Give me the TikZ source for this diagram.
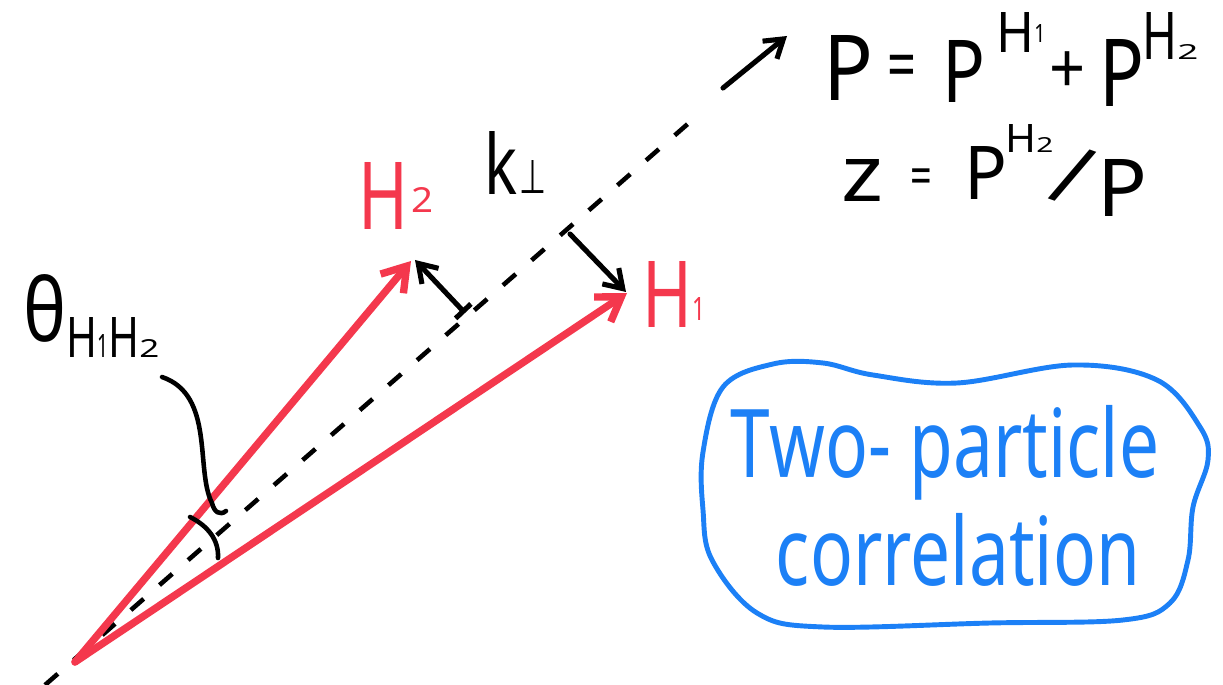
\documentclass[tikz,border=0pt]{standalone}
\usepackage{fontspec}
\setmainfont{Noto Sans}
\newfontfamily\symfont{DejaVu Sans}
\usetikzlibrary{arrows.meta}
\definecolor{hred}{HTML}{F4384D}
\definecolor{hblue}{HTML}{1C80F6}
\newcommand{\fs}[1]{\fontsize{#1}{#1}\selectfont}
\newcommand{\nar}[2][0.72]{\scalebox{#1}[1]{#2}}
\newcommand{\rb}[3]{\resizebox{#1mm}{#2mm}{#3}}
\begin{document}
\begin{tikzpicture}[x=0.02cm,y=-0.02cm,
  redvec/.style={draw=hred, line width=4.2pt, line cap=round, -{Straight Barb[length=13pt,width=17pt]}},
  blackvec/.style={draw=black, line width=2.9pt, line cap=round, -{Straight Barb[length=10pt,width=13pt]}},
  axisline/.style={draw=black, line width=2.6pt, dash pattern=on 0.34cm off 0.42cm},
  thinline/.style={draw=black, line width=2.6pt, line cap=round},
  redlab/.style={text=hred, inner sep=0pt},
  blk/.style={text=black, inner sep=0pt},
  bluetxt/.style={text=hblue, inner sep=0pt}
]
\useasboundingbox (0,0) rectangle (1223,685);
% points
\coordinate (O) at (75,662);
\coordinate (Ostart) at (45,685);
\coordinate (T2) at (411,261);
\coordinate (T1) at (627,293);
\coordinate (Dend) at (690,122);
\coordinate (Pa) at (723,88);
\coordinate (Pb) at (787,36);
\coordinate (K1a) at (465,313);
\coordinate (K1b) at (415,260);
\coordinate (K2a) at (570,234);
\coordinate (K2b) at (626,292);
\coordinate (La) at (162,377);
\coordinate (Lb) at (212,503);
\coordinate (Aa) at (190,517);
\coordinate (Ab) at (218,558);
% axis
\draw[axisline] (Ostart) -- (Dend);
\draw[blackvec] (Pa) -- (Pb);
% red vectors
\draw[redvec] (O) -- (T2);
\draw[redvec] (O) -- (T1);
% k perp arrows
\draw[blackvec, {Bar[width=12pt]}-{Straight Barb[length=10pt,width=13pt]}] (K1a) -- (K1b);
\draw[blackvec] (K2a) -- (K2b);
% angle leader and arc
\draw[thinline] (La) .. controls (215,395) and (195,470) .. (Lb)
   .. controls (214,512) and (220,516) .. (226,511);
\draw[thinline] (Aa) .. controls (208,526) and (219,540) .. (Ab);
% labels
\node[redlab, anchor=base west] (H2) at (358,230) {\rb{10}{13.4}{H}\kern0.6mm\raisebox{3.4mm}{\rb{4.4}{5}{2}}};
\node[redlab, anchor=base west] (H1) at (642,328) {\rb{10}{13.2}{H}\raisebox{1.6mm}{\rb{2.6}{4.6}{1}}};
\node[blk, anchor=base west] (k) at (484,195) {\rb{6.6}{12.6}{k}};
\node[blk] (perp) at (533,177) {\symfont\rb{5.4}{6.6}{⊥}};
\node[blk] (theta) at (45,308) {\rb{8.6}{13.4}{θ}};
\node[blk, anchor=base west] (thsub) at (66,358) {\rb{6.2}{8}{H}\rb{2.2}{4.6}{1}\rb{6.2}{8}{H}\rb{4}{3.6}{2}};
% formula line 1
\node[blk] (P1) at (848,68) {\rb{10}{13}{P}};
\node[blk] (eq1) at (902,72) {\nar{\fs{40}=}};
\node[blk] (P2) at (964,71) {\rb{8.6}{12.4}{P}};
\node[blk, anchor=base west] (s1) at (996,53) {\rb{7.6}{8}{H}\raisebox{2mm}{\rb{2.2}{3.6}{1}}};
\node[blk] (plus) at (1068,73) {\nar[0.9]{\fs{40}+}};
\node[blk] (P3) at (1122,73) {\rb{9}{13.4}{P}};
\node[blk, anchor=base west] (s2) at (1142,60) {\rb{7}{9.4}{H}\rb{4.2}{3}{2}};
% formula line 2
\node[blk] (z) at (862,181) {\rb{8.4}{8.4}{z}};
\node[blk] (eq2) at (921,182) {\nar{\fs{30}=}};
\node[blk] (P4) at (986,173) {\rb{8.6}{10.6}{P}};
\node[blk, anchor=base west] (s3) at (1005,153) {\rb{6.2}{5.6}{H}\rb{3.4}{3}{2}};
\node[blk] (slash) at (1073,176) {\rotatebox{-20}{\fs{48}/}};
\node[blk] (P5) at (1122,188) {\rb{10}{11.4}{P}};
% blue box
\draw[hblue, line width=2.8pt] plot[smooth cycle, tension=0.6] coordinates {
 (703,452) (723,387) (773,364) (823,363) (873,375) (957,383) (1073,365)
 (1157,380) (1200,427) (1208,460) (1193,507) (1188,560) (1170,603)
 (1123,620) (990,623) (823,627) (757,613) (712,560) (703,510)};
\node[bluetxt, anchor=base] (t1) at (945,478) {\nar[0.75]{\fs{54}Two- particle}};
\node[bluetxt, anchor=base] (t2) at (958,585) {\nar[0.75]{\fs{54}correlation}};
\end{tikzpicture}
\end{document}
